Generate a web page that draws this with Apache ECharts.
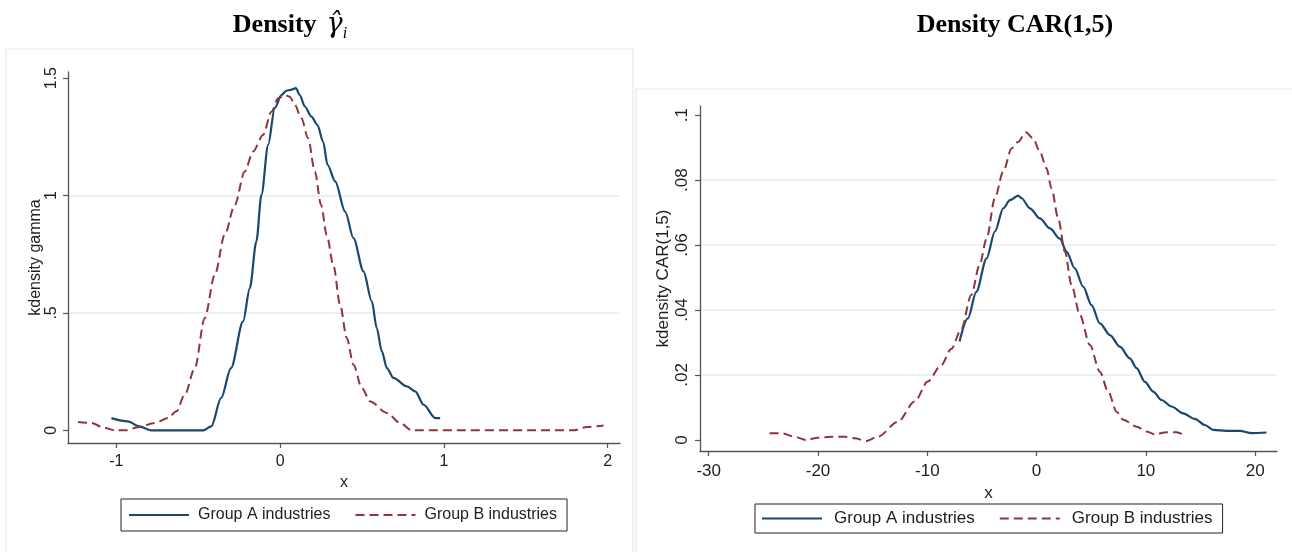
<!DOCTYPE html>
<html>
<head>
<meta charset="utf-8">
<script src="https://cdn.jsdelivr.net/npm/echarts@6/dist/echarts.min.js"></script>
<style>
html,body{margin:0;padding:0;background:#fff;}
#c{width:1292px;height:552px;}
</style>
</head>
<body>
<div id="c"></div>
<script>
// ---- data ----
const seriesNames = ['Group A industries', 'Group B industries'];

// Left panel: kernel density of gamma
const gammaGroupA = [
  [-1.03,0.052],[-0.93,0.038],[-0.86,0.017],[-0.79,0],[-0.47,0],[-0.42,0.017],[-0.36,0.138],
  [-0.30,0.265],[-0.226,0.464],[-0.185,0.606],[-0.145,0.804],[-0.114,1.003],[-0.073,1.216],
  [-0.033,1.372],[0.008,1.428],[0.039,1.447],[0.065,1.450],[0.096,1.457],[0.12,1.428],
  [0.151,1.379],[0.191,1.336],[0.228,1.30],[0.262,1.23],[0.29,1.13],[0.336,1.06],[0.397,0.932],
  [0.448,0.818],[0.509,0.677],[0.56,0.549],[0.59,0.435],[0.621,0.336],[0.652,0.265],
  [0.692,0.223],[0.774,0.187],[0.825,0.166],[0.876,0.109],[0.947,0.052],[0.977,0.052]
];
const gammaGroupB = [
  [-1.234,0.035],[-1.153,0.031],[-1.07,0.01],[-1.01,0],[-0.939,0],[-0.868,0.013],[-0.766,0.031],
  [-0.684,0.052],[-0.633,0.081],[-0.582,0.152],[-0.521,0.265],[-0.46,0.478],[-0.399,0.662],
  [-0.338,0.833],[-0.277,0.96],[-0.216,1.102],[-0.165,1.187],[-0.104,1.258],[-0.053,1.357],
  [-0.012,1.414],[0.029,1.428],[0.059,1.421],[0.09,1.386],[0.13,1.329],[0.171,1.244],
  [0.212,1.102],[0.25,0.96],[0.285,0.83],[0.326,0.70],[0.366,0.535],[0.407,0.393],
  [0.448,0.279],[0.499,0.18],[0.55,0.123],[0.652,0.074],[0.733,0.031],[0.804,0],
  [1.792,0],[1.873,0.014],[1.975,0.021]
];

// Right panel: kernel density of CAR(1,5)
const carGroupA = [
  [-7.05,0.0303],[-6.29,0.0374],[-5.52,0.0456],[-4.57,0.0559],[-3.82,0.0641],[-3.05,0.0713],
  [-2.44,0.0738],[-1.68,0.0752],[-1.37,0.0744],[-0.61,0.0713],[0.30,0.0682],[1.22,0.0651],
  [2.13,0.062],[2.74,0.058],[3.5,0.0528],[4.26,0.0472],[5.03,0.0415],[5.79,0.0359],
  [6.71,0.0323],[7.62,0.0287],[8.54,0.0251],[9.15,0.0221],[9.91,0.0179],[10.67,0.0149],
  [11.44,0.0123],[12.35,0.0103],[13.41,0.0082],[14.48,0.0065],[15.4,0.0046],[16.16,0.0031],
  [17.38,0.0028],[18.6,0.0028],[19.67,0.0021],[21.04,0.0023]
];
const carGroupB = [
  [-24.43,0.0021],[-23.37,0.0021],[-22.14,0.001],[-21.08,0],[-20.0,0.0007],[-18.79,0.001],
  [-17.57,0.001],[-16.65,0.0005],[-15.59,-0.0003],[-14.52,0.001],[-12.69,0.0056],[-11.16,0.0118],
  [-9.95,0.018],[-8.73,0.023],[-7.81,0.028],[-6.9,0.034],[-5.98,0.0446],[-5.22,0.0538],
  [-4.57,0.062],[-3.82,0.0744],[-3.05,0.0826],[-2.29,0.0897],[-1.68,0.0918],[-0.98,0.0947],
  [-0.31,0.0928],[0.30,0.0887],[0.91,0.0836],[1.37,0.0774],[1.98,0.0682],[2.59,0.058],
  [3.2,0.0477],[3.96,0.0385],[4.88,0.0292],[5.79,0.021],[6.55,0.0149],[7.32,0.0087],
  [7.93,0.0062],[9.15,0.0041],[10.06,0.0026],[10.82,0.0017],[11.89,0.0024],[12.81,0.0024],
  [13.41,0.0017]
];

// tick values
const leftXTicks = [-1, 0, 1, 2];
const leftYTicks = [0, 0.5, 1, 1.5];
const rightXTicks = [-30, -20, -10, 0, 10, 20];
const rightYTicks = [0, 0.02, 0.04, 0.06, 0.08, 0.1];

// ---- styling ----
const NAVY = '#1a476f', MAROON = '#90353b';
const AXIS = '#555555', TXT = '#1e1e1e', GRID = '#e6eef1';
const SANS = 'Liberation Sans, Arial, sans-serif';
const SERIF = 'Liberation Serif, Times New Roman, serif';

const fmt = v => {
  const s = String(+(+v).toFixed(4));
  return s.replace(/^(-?)0\./, '$1.');
};

function xAxisCfg(grid, min, max, ticks, fs, margin, nameGap) {
  return {
    type: 'value', gridIndex: grid, min: min, max: max,
    name: 'x', nameLocation: 'middle', nameGap: nameGap,
    nameTextStyle: { fontFamily: SANS, fontSize: fs, color: TXT },
    axisLine: { show: true, onZero: false, lineStyle: { color: AXIS, width: 1.3 } },
    axisTick: { show: true, length: 5, lineStyle: { color: AXIS, width: 1.2 }, customValues: ticks },
    axisLabel: { fontFamily: SANS, fontSize: fs, color: TXT, margin: margin, customValues: ticks, formatter: fmt },
    splitLine: { show: false }
  };
}
function yAxisCfg(grid, min, max, ticks, fs, margin, name, nameGap) {
  return {
    type: 'value', gridIndex: grid, min: min, max: max,
    name: name, nameLocation: 'middle', nameGap: nameGap, nameRotate: 90,
    nameTextStyle: { fontFamily: SANS, fontSize: fs, color: TXT },
    axisLine: { show: true, onZero: false, lineStyle: { color: AXIS, width: 1.3 } },
    axisTick: { show: true, length: 5, lineStyle: { color: AXIS, width: 1.2 }, customValues: ticks },
    axisLabel: { fontFamily: SANS, fontSize: fs, color: TXT, margin: margin, rotate: 90, customValues: ticks, formatter: fmt },
    splitLine: { show: true, showMinLine: false, showMaxLine: false, lineStyle: { color: GRID, width: 1.6 } }
  };
}
function lineSeries(name, data, xi, yi, color, dashed) {
  return {
    type: 'line', name: name, data: data, xAxisIndex: xi, yAxisIndex: yi,
    symbol: 'none', smooth: 0.3, smoothMonotone: 'x',
    lineStyle: { color: color, width: dashed ? 2 : 2.2, type: dashed ? [9, 5] : 'solid' },
    itemStyle: { color: color }, z: dashed ? 3 : 2
  };
}
function legendCfg(left, top, fs, pad, gap, textPadLeft) {
  return {
    left: left, top: top, orient: 'horizontal',
    data: seriesNames,
    itemWidth: 60, itemHeight: 14, itemGap: gap,
    padding: pad, borderColor: '#222', borderWidth: 1, borderRadius: 0,
    selectedMode: false,
    itemStyle: { opacity: 0, borderWidth: 0 },
    textStyle: { fontFamily: SANS, fontSize: fs, color: TXT, padding: [0, 0, 0, textPadLeft] }
  };
}

const chart = echarts.init(document.getElementById('c'), null, { renderer: 'canvas' });
chart.setOption({
  animation: false,
  backgroundColor: '#ffffff',
  grid: [
    { left: 68, top: 72, width: 552, height: 371, containLabel: false },
    { left: 700, top: 106, width: 577, height: 345, containLabel: false }
  ],
  xAxis: [
    xAxisCfg(0, -1.295, 2.075, leftXTicks, 16, 11, 29),
    xAxisCfg(1, -30.8, 22.0, rightXTicks, 17, 12, 27)
  ],
  yAxis: [
    yAxisCfg(0, -0.054, 1.526, leftYTicks, 16, 8, 'kdensity gamma', 24),
    yAxisCfg(1, -0.0034, 0.1028, rightYTicks, 17, 9, 'kdensity CAR(1,5)', 28)
  ],
  legend: [
    legendCfg(121, 499, 16, [8, 10, 8, 7], 24, 4),
    legendCfg(755, 504, 17, [6, 10, 6, 6], 24, 7)
  ],
  series: [
    lineSeries(seriesNames[0], gammaGroupA, 0, 0, NAVY, false),
    lineSeries(seriesNames[1], gammaGroupB, 0, 0, MAROON, true),
    lineSeries(seriesNames[0], carGroupA, 1, 1, NAVY, false),
    lineSeries(seriesNames[1], carGroupB, 1, 1, MAROON, true)
  ],
  graphic: [
    { type: 'rect', silent: true, z: -10, shape: { x: 6, y: 49, width: 627, height: 520 },
      style: { fill: 'none', stroke: '#e3e9ec', lineWidth: 1.2 } },
    { type: 'rect', silent: true, z: -10, shape: { x: 636, y: 89, width: 700, height: 520 },
      style: { fill: 'none', stroke: '#e3e9ec', lineWidth: 1.2 } },
    { type: 'text', x: 290, y: 25, z: 10,
      style: {
        text: '{a|Density}{g|γ̂}{s|i}',
        align: 'center', verticalAlign: 'middle',
        rich: {
          a: { fontFamily: SERIF, fontWeight: 'bold', fontSize: 26, fill: '#000' },
          g: { fontFamily: 'DejaVu Serif, serif', fontStyle: 'italic', fontSize: 27, fill: '#000', padding: [0, 0, 0, 10] },
          s: { fontFamily: SERIF, fontStyle: 'italic', fontSize: 16, fill: '#000', padding: [18, 0, 0, 0] }
        }
      } },
    { type: 'text', x: 1015, y: 25, z: 10,
      style: { text: 'Density CAR(1,5)', align: 'center', verticalAlign: 'middle',
        fontFamily: SERIF, fontWeight: 'bold', fontSize: 26, fill: '#000' } }
  ]
});
</script>
</body>
</html>
